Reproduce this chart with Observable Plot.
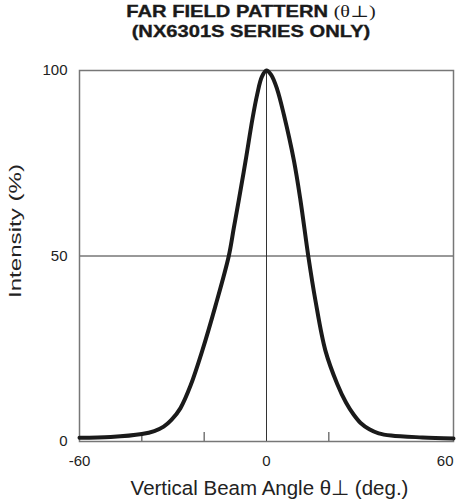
<!DOCTYPE html>
<html>
<head>
<meta charset="utf-8">
<script src="https://cdn.jsdelivr.net/npm/d3@7"></script>
<script src="https://cdn.jsdelivr.net/npm/@observablehq/plot@0.6"></script>
<style>
  body { margin: 0; background: #fff; width: 465px; height: 503px; overflow: hidden; font-family: "Liberation Sans", Arial, sans-serif; }
  #title { position: absolute; left: 0; top: 2px; width: 502px; text-align: center; font-weight: bold; font-size: 16.5px; line-height: 18.5px; color: #1a1a1a; transform: scaleX(1.22); transform-origin: 251px 0; -webkit-text-stroke: 0.35px #1a1a1a; }
  #title .sym { font-family: "Liberation Serif", "DejaVu Serif", serif; font-weight: normal; -webkit-text-stroke: 0; }
  #chart { position: absolute; left: 0; top: 50px; }
</style>
</head>
<body>
<div id="title">FAR FIELD PATTERN <span class="sym">(θ⊥)</span><br>(NX6301S SERIES ONLY)</div>
<div id="chart"></div>
<script>
const angles = [-60, -50, -40, -36, -33, -30.5, -27.6, -24.4, -20.6, -16.4, -12.1, -10.5, -8.9, -6.7, -4.5, -3, -1.5, 0, 1.5, 3.4, 5.6, 8.8, 10.9, 13.4, 15.7, 18.9, 22.7, 25.5, 28, 30.2, 33, 36, 40, 50, 60];
const intensity = [1.0, 1.2, 2.0, 2.8, 4.0, 5.8, 9.0, 15.0, 24.5, 36.5, 50, 57.5, 65, 75.7, 87, 93.5, 98.3, 100, 98.8, 95, 88, 75.7, 65, 50, 38, 24.5, 15.5, 10.5, 7.2, 5.0, 3.3, 2.2, 1.6, 1.1, 0.8];
const xTickLabels = [-60, 0, 60];
const yTickLabels = [0, 50, 100];
const innerTicks = [-40, -20, 20];
const gridX = [0];
const gridY = [50];
const yTitle = "Intensity (%)";
const xTitle = "Vertical Beam Angle θ⊥ (deg.)";

const data = angles.map((a, i) => ({angle: a, value: intensity[i]}));
const font = "'Liberation Sans', Arial, sans-serif";

const plot = Plot.plot({
  width: 465,
  height: 453,
  marginTop: 20,
  marginBottom: 62,
  marginLeft: 79,
  marginRight: 12,
  style: {fontFamily: font, color: "#222", background: "#fff"},
  x: {domain: [-60, 60], axis: null},
  y: {domain: [0, 100], axis: null},
  marks: [
    Plot.ruleX(gridX, {stroke: "#333", strokeWidth: 1}),
    Plot.ruleY(gridY, {stroke: "#333", strokeWidth: 1}),
    Plot.ruleX(innerTicks, {y1: 0, y2: 2.4, stroke: "#555", strokeWidth: 1.2}),
    Plot.frame({stroke: "#777", strokeWidth: 1.5}),
    Plot.line(data, {x: "angle", y: "value", curve: "catmull-rom", stroke: "#1a1a1a", strokeWidth: 4, strokeLinejoin: "round"}),
    Plot.text(yTickLabels, {y: d => d, text: d => String(d), frameAnchor: "left", textAnchor: "end", lineAnchor: "middle", dx: -12, fontSize: 15, fill: "#222"}),
    Plot.text(xTickLabels, {filter: d => d !== 60, x: d => d, text: d => String(d), frameAnchor: "bottom", textAnchor: "middle", lineAnchor: "middle", dy: 20, fontSize: 15, fill: "#222"}),
    Plot.text(xTickLabels, {filter: d => d === 60, x: d => d, text: d => String(d), frameAnchor: "bottom", textAnchor: "end", lineAnchor: "middle", dy: 20, fontSize: 15, fill: "#222"}),
    Plot.text([yTitle], {frameAnchor: "left", textAnchor: "middle", lineAnchor: "middle", rotate: -90, dx: -64, dy: -25, fontSize: 16.5, fill: "#222"}),
    Plot.text([xTitle], {frameAnchor: "bottom", textAnchor: "middle", lineAnchor: "middle", dy: 47, dx: 3, fontSize: 20.5, fill: "#222"})
  ]
});
document.getElementById("chart").appendChild(plot);
// stretch the y-axis title to the reference length
d3.select(plot).selectAll("text").filter(function() { return this.textContent === yTitle; })
  .attr("textLength", 134).attr("lengthAdjust", "spacingAndGlyphs");
</script>
</body>
</html>
